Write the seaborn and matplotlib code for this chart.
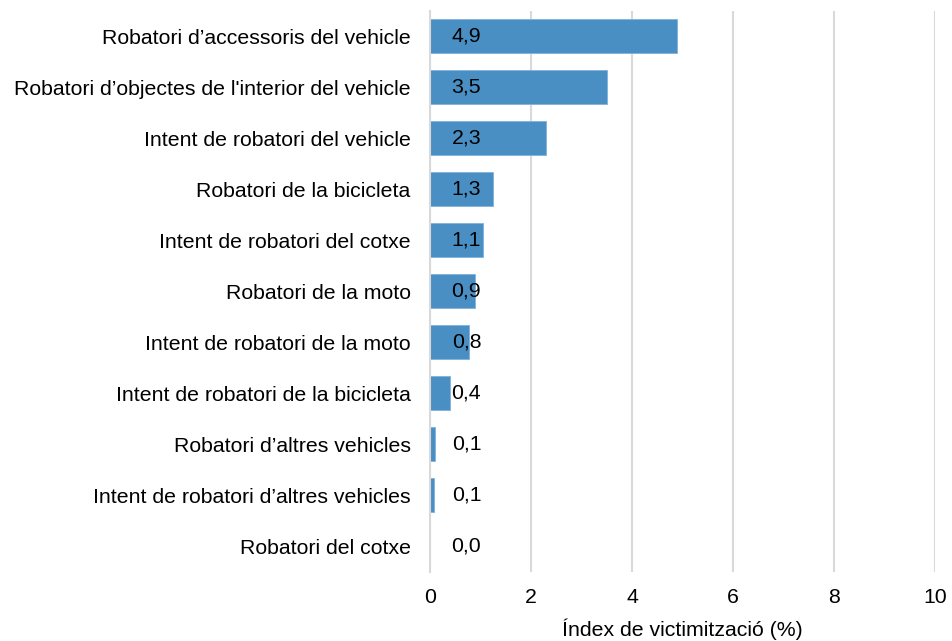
import pandas as pd
import seaborn as sns
import matplotlib.pyplot as plt

# dades: índex de victimització per tipus de fet (%)
categories = [
    "Robatori d\u2019accessoris del vehicle",
    "Robatori d\u2019objectes de l'interior del vehicle",
    "Intent de robatori del vehicle",
    "Robatori de la bicicleta",
    "Intent de robatori del cotxe",
    "Robatori de la moto",
    "Intent de robatori de la moto",
    "Intent de robatori de la bicicleta",
    "Robatori d\u2019altres vehicles",
    "Intent de robatori d\u2019altres vehicles",
    "Robatori del cotxe",
]
values = [4.9, 3.5, 2.3, 1.25, 1.05, 0.9, 0.78, 0.4, 0.1, 0.07, 0.0]
value_labels = ["4,9", "3,5", "2,3", "1,3", "1,1", "0,9", "0,8", "0,4", "0,1", "0,1", "0,0"]
xticks = [0, 2, 4, 6, 8, 10]

df = pd.DataFrame({"cat": categories, "val": values})

sns.set_style("white")
plt.rcParams["font.family"] = ["Liberation Sans", "DejaVu Sans"]
fs = 15.3

fig = plt.figure(figsize=(9.52, 6.41), dpi=100)
ax = fig.add_axes([0.4517, 0.1084, 0.5305, 0.8752])

sns.barplot(data=df, x="val", y="cat", orient="h", color="#4a8fc3",
            saturation=1, width=0.67, edgecolor="#7fb2dc", linewidth=0.6, ax=ax)

# etiquetes de valor
for i, lab in enumerate(value_labels):
    ax.text(0.72, i, lab, ha="center", va="center", fontsize=fs, color="black")

ax.set_xlim(0, 10)
ax.set_xticks(xticks)
ax.set_xticklabels([str(t) for t in xticks])
ax.xaxis.grid(True, color="#d9d9d9", linewidth=1.5)
ax.set_axisbelow(True)
for s in ["top", "right", "bottom"]:
    ax.spines[s].set_visible(False)
ax.spines["left"].set_color("#d9d9d9")
ax.spines["left"].set_linewidth(1.5)
ax.tick_params(axis="y", length=0, pad=14, labelsize=fs, labelcolor="black")
ax.tick_params(axis="x", length=0, pad=12, labelsize=fs, labelcolor="black")
ax.set_ylabel("")
ax.set_xlabel("\u00cdndex de victimitzaci\u00f3 (%)", fontsize=fs, labelpad=8, color="black")

plt.savefig("out.png", dpi=100)
